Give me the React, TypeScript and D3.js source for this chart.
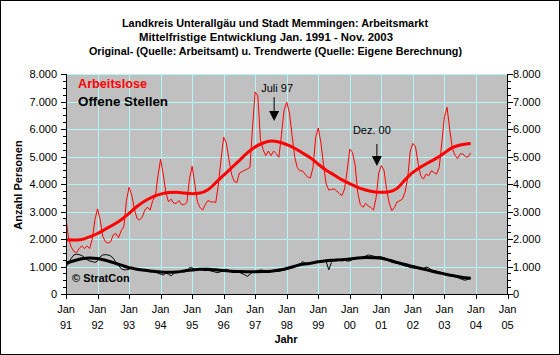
import React, { useEffect } from "react";
import * as d3 from "d3";

// ---- Data (month index 0 = Jan 1991) ----
const titleLines = [
  "Landkreis Unterallgäu und Stadt Memmingen: Arbeitsmarkt",
  "Mittelfristige Entwicklung Jan. 1991 - Nov. 2003",
  "Original- (Quelle: Arbeitsamt) u. Trendwerte (Quelle: Eigene Berechnung)",
];

const yearLabels = ["91", "92", "93", "94", "95", "96", "97", "98", "99", "00", "01", "02", "03", "04", "05"];
const yTicks = [0, 1000, 2000, 3000, 4000, 5000, 6000, 7000, 8000];
const yTickLabels = ["0", "1.000", "2.000", "3.000", "4.000", "5.000", "6.000", "7.000", "8.000"];

// Arbeitslose, monthly original values Jan 1991 - Nov 2003
const arbeitslose = [
  2750, 2000, 1700, 1550, 1500, 1650, 1750, 1650, 1750, 1650, 2000, 2700,
  3100, 2700, 2100, 1900, 1850, 1900, 2150, 2200, 2050, 2300, 2450, 3400,
  3880, 3600, 3100, 2750, 2690, 2800, 3050, 3160, 3050, 3400, 3550, 4300,
  4900, 4350, 3700, 3350, 3450, 3300, 3300, 3400, 3250, 3250, 3330, 4200,
  4650, 4000, 3350, 3150, 3050, 3250, 3400, 3350, 3350, 3330, 4000, 4900,
  5700, 5500, 4900, 4350, 4100, 4050, 4400, 4450, 4500, 4550, 4600, 6100,
  7350, 7200, 5600, 5250, 5030, 5200, 5030, 5200, 5100, 4970, 5800, 6700,
  6970, 6600, 5800, 5000, 4600, 4480, 4480, 4350, 4250, 4220, 4600, 5700,
  6040, 5500, 4700, 4000, 3780, 3800, 3820, 3750, 3650, 3580, 3820, 4500,
  5270, 5150, 4700, 3700, 3250, 3150, 3300, 3200, 3150, 3050, 3500, 4400,
  4670, 4500, 3800, 3300, 3030, 3150, 3350, 3390, 3450, 3700, 4200, 5200,
  5480, 5350, 4750, 4300, 4180, 4360, 4300, 4480, 4420, 4360, 4600, 5500,
  6450, 6790, 6000, 5300, 5050, 4920, 5090, 5100, 4990, 4980, 5130,
];

// Offene Stellen, monthly original values Jan 1991 - Nov 2003
const offeneStellen = [
  1000, 1100, 1300, 1420, 1450, 1430, 1400, 1330, 1250, 1200, 1180, 1150,
  1200, 1350, 1420, 1430, 1420, 1380, 1300, 1150, 1050, 920, 880, 880,
  900, 980, 940, 880, 900, 880, 870, 860, 850, 820, 790, 760,
  720, 690, 760, 720, 660, 750, 800, 810, 820, 810, 830, 960,
  950, 900, 920, 900, 870, 850, 860, 840, 820, 790, 780, 820,
  880, 900, 860, 800, 780, 800, 790, 740, 700, 640, 720, 800,
  820, 850, 870, 860, 850, 830, 840, 860, 840, 820, 850, 870,
  900, 930, 960, 1000, 1050, 1080, 1180, 1120, 1100, 1130, 1150, 1160,
  1180, 1200, 1220, 1180, 880, 1150, 1250, 1260, 1230, 1200, 1220, 1200,
  1200, 1250, 1280, 1300, 1320, 1350, 1380, 1420, 1400, 1380, 1350, 1360,
  1350, 1320, 1280, 1200, 1150, 1130, 1110, 1080, 1050, 1020, 1000, 960,
  950, 930, 920, 900, 920, 980, 950, 880, 850, 830, 800, 780,
  740, 700, 680, 660, 630, 600, 560, 520, 500, 540, 560,
];

// Trend values, read every quarter (month index listed explicitly)
const trendMonths = [
  0, 3, 6, 9, 12, 15, 18, 21, 24, 27, 30, 33, 36, 39, 42, 45, 48, 51, 54, 57, 60, 63, 66, 69, 72, 75,
  78, 81, 84, 87, 90, 93, 96, 99, 102, 105, 108, 111, 114, 117, 120, 123, 126, 129, 132, 135, 138,
  141, 144, 147, 150, 153, 154,
];
const trendArbeitslose = [
  1975, 1960, 1980, 2080, 2200, 2360, 2520, 2700, 2930, 3180, 3380, 3530, 3630, 3690, 3700, 3670,
  3650, 3670, 3790, 4050, 4320, 4590, 4860, 5130, 5350, 5490, 5560, 5530, 5430, 5300, 5130, 4950,
  4720, 4500, 4330, 4150, 4010, 3880, 3780, 3720, 3700, 3720, 3840, 4150, 4420, 4620, 4780, 4940,
  5130, 5320, 5420, 5460, 5470,
];
const trendOffeneStellen = [
  1120, 1210, 1280, 1310, 1290, 1230, 1140, 1050, 960, 900, 860, 830, 800, 790, 800, 840, 870, 900,
  900, 880, 850, 830, 815, 810, 810, 815, 830, 870, 930, 1010, 1080, 1120, 1170, 1210, 1230, 1250,
  1270, 1310, 1330, 1320, 1300, 1230, 1150, 1070, 1000, 930, 860, 790, 730, 670, 620, 580, 570,
];

const annotations = [
  { label: "Juli 97", month: 79.2, value: 6290, textDx: 3, textUp: 29, lineUp: 24 },
  { label: "Dez. 00", month: 118.3, value: 4655, textDx: -5, textUp: 32, lineUp: 22 },
];

const FONT = "'Liberation Sans', Arial, sans-serif";

export default function App() {
  useEffect(() => {
    document.body.style.margin = "0";
  }, []);

  const W = 560;
  const H = 355;
  const x = d3.scaleLinear().domain([0, 168]).range([66, 507.5]);
  const y = d3.scaleLinear().domain([0, 8000]).range([294, 74]);

  const months = d3.range(arbeitslose.length);
  const thin = d3
    .line<number>()
    .x((_, i) => x(months[i]))
    .y((d) => y(d));
  const trend = d3
    .line<number>()
    .x((_, i) => x(trendMonths[i]))
    .y((d) => y(d))
    .curve(d3.curveMonotoneX);

  const yearTicks = yearLabels.map((_, i) => i * 12);
  const minorTicks = d3.range(0, 8001, 250).filter((v) => v % 1000 !== 0);
  const grid = "#b2f7f7";
  const [x0, x1] = x.range();
  const [yb, yt] = y.range();

  return (
    <svg width={W} height={H} style={{ position: "absolute", left: 0, top: 0, display: "block" }} fontFamily={FONT}>
      <rect x={0} y={0} width={W} height={H} fill="#ffffff" />
      <rect x={0.5} y={0.5} width={W - 1} height={H - 1} fill="none" stroke="#000" />

      {/* titles */}
      <g fontWeight="bold" fontSize={10.5} textAnchor="middle" fill="#000">
        <text x={275} y={27} textLength={306} lengthAdjust="spacingAndGlyphs">{titleLines[0]}</text>
        <text x={266} y={41} textLength={254} lengthAdjust="spacingAndGlyphs">{titleLines[1]}</text>
        <text x={275.5} y={55} textLength={373} lengthAdjust="spacingAndGlyphs">{titleLines[2]}</text>
      </g>

      {/* plot background */}
      <rect x={x0} y={yt} width={x1 - x0} height={yb - yt} fill="#c0c0c0" />

      {/* grid */}
      <g stroke={grid} strokeWidth={1} shapeRendering="crispEdges">
        {yTicks.slice(1).map((v) => (
          <line key={"h" + v} x1={x0} x2={x1} y1={Math.round(y(v)) + 0.5} y2={Math.round(y(v)) + 0.5} />
        ))}
        {yearTicks.slice(1, -1).map((m) => (
          <line key={"v" + m} x1={Math.round(x(m)) + 0.5} x2={Math.round(x(m)) + 0.5} y1={yt} y2={yb} />
        ))}
      </g>

      {/* data */}
      <path d={thin(arbeitslose) || ""} fill="none" stroke="#ff0000" strokeWidth={1} />
      <path d={thin(offeneStellen) || ""} fill="none" stroke="#000" strokeWidth={1} />
      <path d={trend(trendArbeitslose) || ""} fill="none" stroke="#ff0000" strokeWidth={3} />
      <path d={trend(trendOffeneStellen) || ""} fill="none" stroke="#000" strokeWidth={3} />

      {/* axes */}
      <g stroke="#000" strokeWidth={1} shapeRendering="crispEdges">
        <line x1={x0} x2={x0} y1={yt} y2={yb} />
        <line x1={x1} x2={x1} y1={yt} y2={yb} />
        <line x1={x0} x2={x1} y1={yb} y2={yb} />
        {yTicks.map((v) => (
          <g key={"t" + v}>
            <line x1={x0 - 5} x2={x0} y1={Math.round(y(v)) + 0.5} y2={Math.round(y(v)) + 0.5} />
            <line x1={x1} x2={x1 + 5} y1={Math.round(y(v)) + 0.5} y2={Math.round(y(v)) + 0.5} />
          </g>
        ))}
        {minorTicks.map((v) => (
          <g key={"m" + v}>
            <line x1={x0 - 3} x2={x0} y1={Math.round(y(v)) + 0.5} y2={Math.round(y(v)) + 0.5} />
            <line x1={x1} x2={x1 + 3} y1={Math.round(y(v)) + 0.5} y2={Math.round(y(v)) + 0.5} />
          </g>
        ))}
        {yearTicks.map((m) => (
          <line key={"xt" + m} x1={Math.round(x(m)) + 0.5} x2={Math.round(x(m)) + 0.5} y1={yb} y2={yb + 5} />
        ))}
      </g>

      {/* tick labels */}
      <g fontSize={11} fill="#000">
        {yTicks.map((v, i) => (
          <text key={"yl" + v} x={57} y={y(v) + 4} textAnchor="end">{yTickLabels[i]}</text>
        ))}
        {yTicks.map((v, i) => (
          <text key={"yr" + v} x={513} y={y(v) + 4} textAnchor="start">{yTickLabels[i]}</text>
        ))}
        {yearTicks.map((m, i) => (
          <g key={"xl" + m}>
            <text x={x(m)} y={313} textAnchor="middle">Jan</text>
            <text x={x(m)} y={328.5} textAnchor="middle">{yearLabels[i]}</text>
          </g>
        ))}
      </g>

      {/* axis titles */}
      <text x={286} y={343} fontSize={11} fontWeight="bold" textAnchor="middle">Jahr</text>
      <text transform="translate(21.5,185) rotate(-90)" fontSize={11} fontWeight="bold" textAnchor="middle">Anzahl Personen</text>

      {/* legend */}
      <text x={78} y={88} fontSize={12.5} fontWeight="bold" fill="#ff0000" textLength={69} lengthAdjust="spacingAndGlyphs">Arbeitslose</text>
      <text x={78} y={105.5} fontSize={12.5} fontWeight="bold" fill="#000" textLength={90} lengthAdjust="spacingAndGlyphs">Offene Stellen</text>

      {/* copyright */}
      <text x={72} y={282} fontSize={11} fontWeight="bold" fill="#000">© StratCon</text>

      {/* annotations */}
      {annotations.map((a) => {
        const ax = x(a.month);
        const tipY = y(a.value);
        return (
          <g key={a.label}>
            <text x={ax + a.textDx} y={tipY - a.textUp} fontSize={11} textAnchor="middle">{a.label}</text>
            <line x1={ax} x2={ax} y1={tipY - a.lineUp} y2={tipY - 8} stroke="#000" strokeWidth={1} />
            <path d={`M${ax - 5},${tipY - 10} L${ax + 5},${tipY - 10} L${ax},${tipY} Z`} fill="#000" />
          </g>
        );
      })}
    </svg>
  );
}
